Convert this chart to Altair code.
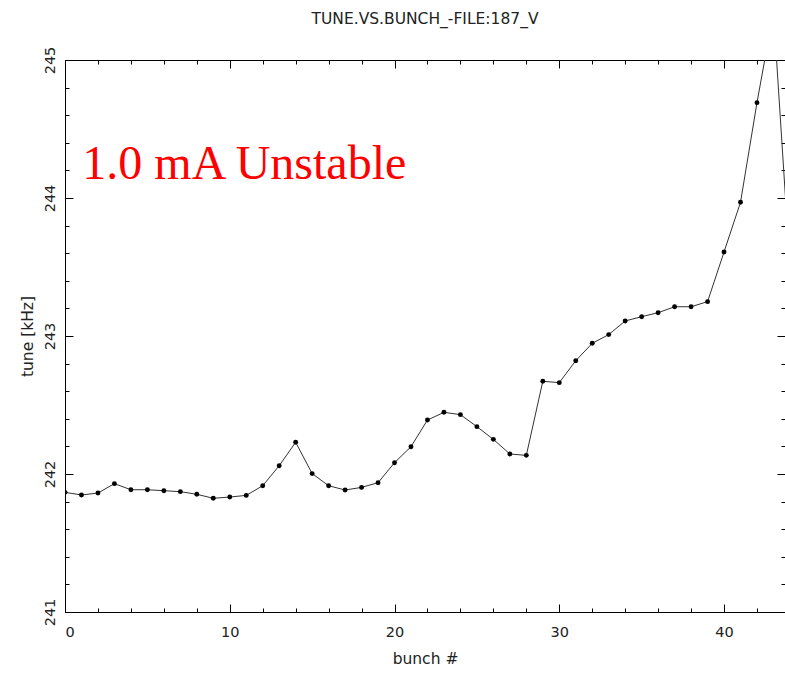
import altair as alt
import pandas as pd

# ---- data ----
bunch = list(range(45))
tune = [241.867, 241.848, 241.862, 241.930, 241.886, 241.886, 241.879, 241.872,
        241.853, 241.824, 241.833, 241.845, 241.915, 242.060, 242.230, 242.003,
        241.915, 241.884, 241.903, 241.937, 242.082, 242.198, 242.391, 242.447,
        242.430, 242.343, 242.251, 242.145, 242.135, 242.672, 242.662, 242.821,
        242.947, 243.010, 243.109, 243.140, 243.169, 243.212, 243.212, 243.249,
        243.609, 243.969, 244.691, 245.350, 243.500]

x_major = [0, 10, 20, 30, 40]
x_minor = [v for v in range(0, 44, 2) if v % 10 != 0]
y_major = [241, 242, 243, 244, 245]
y_minor = [round(241 + 0.2 * i, 1) for i in range(21) if i % 5 != 0]

x_domain = [0, 43.7]
y_domain = [241, 245]

note_text = ["1.0 mA Unstable"]
note_x = [1.05]
note_y = [244.135]

title_text = "TUNE.VS.BUNCH_-FILE:187_V"
x_title = "bunch #"
y_title = "tune [kHz]"

df = pd.DataFrame({"bunch": bunch, "tune": tune})
note_df = pd.DataFrame({"x": note_x, "y": note_y, "t": note_text})

FONT = "DejaVu Sans"
INK = "#222222"

xs = alt.Scale(domain=x_domain, nice=False, zero=False)
ys = alt.Scale(domain=y_domain, nice=False, zero=False)


def tick_axis(orient, values, size, labels=False, domain=True, **kw):
    return alt.Axis(orient=orient, values=values, tickSize={"expr": str(-size)},
                    labels=labels, domain=domain, grid=False, domainColor="black",
                    tickColor="black", domainWidth=1, tickWidth=1, **kw)


main_x_axis = tick_axis("bottom", x_major, 8, labels=True, title=x_title,
                        labelFont=FONT, labelFontSize=14.5, labelColor=INK,
                        labelPadding=21, labelAngle=0, format="d",
                        titleFont=FONT, titleFontSize=15.5, titleFontWeight="normal",
                        titleColor=INK, titlePadding=13)
main_y_axis = tick_axis("left", y_major, 8, labels=True, title=y_title,
                        labelFont=FONT, labelFontSize=14.5, labelColor=INK,
                        labelPadding=19, labelAngle=270, labelAlign="center",
                        labelBaseline="alphabetic", format="d",
                        titleFont=FONT, titleFontSize=15.5, titleFontWeight="normal",
                        titleColor=INK, titlePadding=7)

base = alt.Chart(df)

line = base.mark_line(color="#333333", strokeWidth=1, clip=True).encode(
    x=alt.X("bunch:Q", scale=xs, axis=main_x_axis),
    y=alt.Y("tune:Q", scale=ys, axis=main_y_axis),
)

points = base.mark_circle(size=24, color="black", opacity=1, clip=True).encode(
    x=alt.X("bunch:Q", scale=xs, axis=None),
    y=alt.Y("tune:Q", scale=ys, axis=None),
)

note = alt.Chart(note_df).mark_text(
    align="left", baseline="alphabetic", font="Liberation Serif",
    fontSize=48, color="#ff0000"
).encode(
    x=alt.X("x:Q", scale=xs, axis=None),
    y=alt.Y("y:Q", scale=ys, axis=None),
    text="t:N",
)

minor_a = base.mark_point(opacity=0).encode(
    x=alt.X("bunch:Q", scale=xs, axis=tick_axis("bottom", x_minor, 4, domain=False, title=None)),
    y=alt.Y("tune:Q", scale=ys, axis=tick_axis("left", y_minor, 4, domain=False, title=None)),
)
major_b = base.mark_point(opacity=0).encode(
    x=alt.X("bunch:Q", scale=xs, axis=tick_axis("top", x_major, 8, title=None)),
    y=alt.Y("tune:Q", scale=ys, axis=tick_axis("right", y_major, 8, title=None)),
)
minor_c = base.mark_point(opacity=0).encode(
    x=alt.X("bunch:Q", scale=xs, axis=tick_axis("top", x_minor, 4, domain=False, title=None)),
    y=alt.Y("tune:Q", scale=ys, axis=tick_axis("right", y_minor, 4, domain=False, title=None)),
)

chart = alt.layer(line, points, note, minor_a, major_b, minor_c).resolve_scale(
    x="independent", y="independent"
).properties(
    width=720, height=552,
    padding={"left": 65, "top": 60, "right": 0, "bottom": 61},
    autosize=alt.AutoSizeParams(type="none"),
    title=alt.TitleParams(title_text, font=FONT, fontSize=15.5, fontWeight="normal",
                          color=INK, anchor="middle", offset=0, dy=19),
    background="white",
).configure_view(stroke=None)

chart.save("out.html", embed_options={"renderer": "svg", "actions": False})
